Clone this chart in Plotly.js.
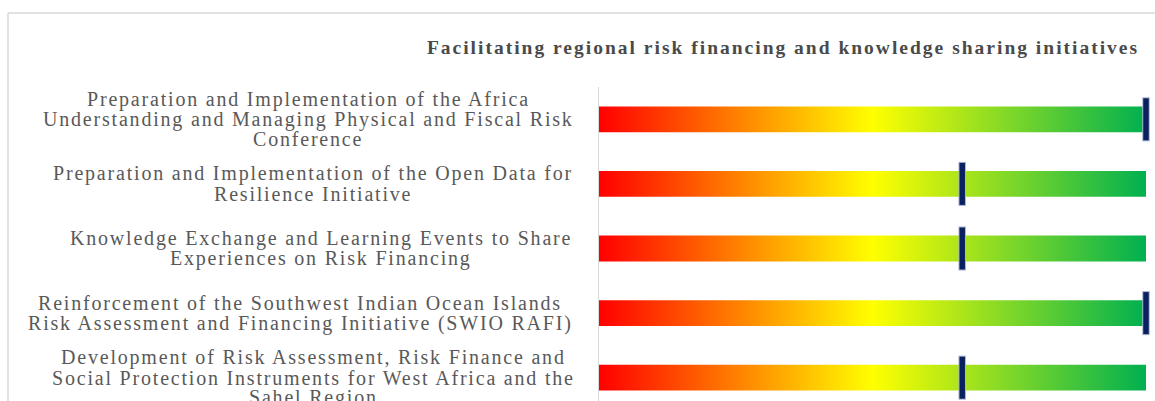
<!DOCTYPE html>
<html><head><meta charset="utf-8">
<script src="https://cdn.plot.ly/plotly-3.0.1.min.js"></script>
<style>
html,body{margin:0;padding:0;background:#fff;}
#chart{width:1155px;height:401px;}
.gtitle{letter-spacing:2px;}
.annotation-text{letter-spacing:1.8px;}
</style></head><body><div id="chart"></div>
<script>
// ---- data ----
const categories = [
  "Preparation and Implementation of the Africa<br>Understanding and Managing Physical and Fiscal Risk<br>Conference",
  "Preparation and Implementation of the Open Data for<br>Resilience Initiative",
  "Knowledge Exchange and Learning Events to Share<br>Experiences on Risk Financing",
  "Reinforcement of the Southwest Indian Ocean Islands<br>Risk Assessment and Financing Initiative (SWIO RAFI)",
  "Development of Risk Assessment, Risk Finance and<br>Social Protection Instruments for West Africa and the<br>Sahel Region"
];
const progress = [100, 66.4, 66.4, 100, 66.4];
const scaleMax = [100, 100, 100, 100, 100];
const titleText = "Facilitating regional risk financing and knowledge sharing initiatives";

// ---- geometry / style ----
const W = 1155, H = 401;
const plotL = 599, plotR = 1146, plotT = 87, plotB = 401;
const rowPx = 64.6;
const yBottom = -0.5 + (plotB - plotT) / rowPx;
const halfBar = 0.2;
const fontFam = '"Liberation Serif", "Times New Roman", serif';
const gradScale = [[0, '#ff0000'], [0.5, '#ffff00'], [1, '#00b050']];
const labelCenters = [308, 313, 321, 300, 313];
const lineGap = 20;

const xp = px => (px - plotL) / (plotR - plotL);
const yp = py => (plotB - py) / (plotB - plotT);

const traces = [];
categories.forEach((c, i) => {
  traces.push({
    type: 'scatter', mode: 'none', fill: 'toself',
    x: [0, scaleMax[i], scaleMax[i], 0, 0],
    y: [i - halfBar, i - halfBar, i + halfBar, i + halfBar, i - halfBar],
    fillgradient: {type: 'horizontal', colorscale: gradScale, start: 0, stop: scaleMax[i]},
    hoverinfo: 'skip', showlegend: false
  });
});
const idx = categories.map((c, i) => i);
traces.push({
  type: 'scatter', mode: 'markers', x: progress, y: idx, cliponaxis: false,
  marker: {symbol: 'line-ns', size: 31.5, line: {width: 7.5, color: '#a9b4cf'}},
  hoverinfo: 'skip', showlegend: false
});
traces.push({
  type: 'scatter', mode: 'markers', x: progress, y: idx, cliponaxis: false,
  marker: {symbol: 'line-ns', size: 30, line: {width: 5.5, color: '#0a2160'}},
  hoverinfo: 'skip', showlegend: false
});

const annotations = [];
categories.forEach((c, i) => {
  const lines = c.split('<br>');
  const n = lines.length;
  lines.forEach((t, k) => {
    annotations.push({
      text: t, xref: 'paper', x: xp(labelCenters[i]), xanchor: 'center',
      yref: 'y', y: i, yanchor: 'middle', yshift: -(k - (n - 1) / 2) * lineGap,
      showarrow: false, font: {family: fontFam, size: 20, color: '#595959'}
    });
  });
});

const shapes = [
  {type: 'line', xref: 'paper', yref: 'paper', x0: xp(8), x1: xp(1170), y0: yp(13), y1: yp(13),
   line: {color: '#d9d9d9', width: 1.5}},
  {type: 'line', xref: 'paper', yref: 'paper', x0: xp(8), x1: xp(8), y0: yp(13), y1: yp(420),
   line: {color: '#d9d9d9', width: 1.5}}
];

const layout = {
  width: W, height: H,
  margin: {l: plotL, r: W - plotR, t: plotT, b: H - plotB, pad: 0},
  paper_bgcolor: '#ffffff', plot_bgcolor: '#ffffff',
  title: {text: '<b>' + titleText + '</b>', xref: 'container', yref: 'container',
          x: 783 / W, xanchor: 'center', y: 1 - 47 / H, yanchor: 'middle',
          font: {family: fontFam, size: 19.5, color: '#4a4a4a'}},
  xaxis: {range: [0, 100], visible: false, fixedrange: true},
  yaxis: {range: [yBottom, -0.5], showticklabels: false, ticks: '', showgrid: false,
          zeroline: false, showline: true, linecolor: '#d9d9d9', linewidth: 1.5, fixedrange: true},
  annotations: annotations, shapes: shapes, hovermode: false, showlegend: false
};

Plotly.newPlot('chart', traces, layout, {displayModeBar: false, staticPlot: true});
</script></body></html>
